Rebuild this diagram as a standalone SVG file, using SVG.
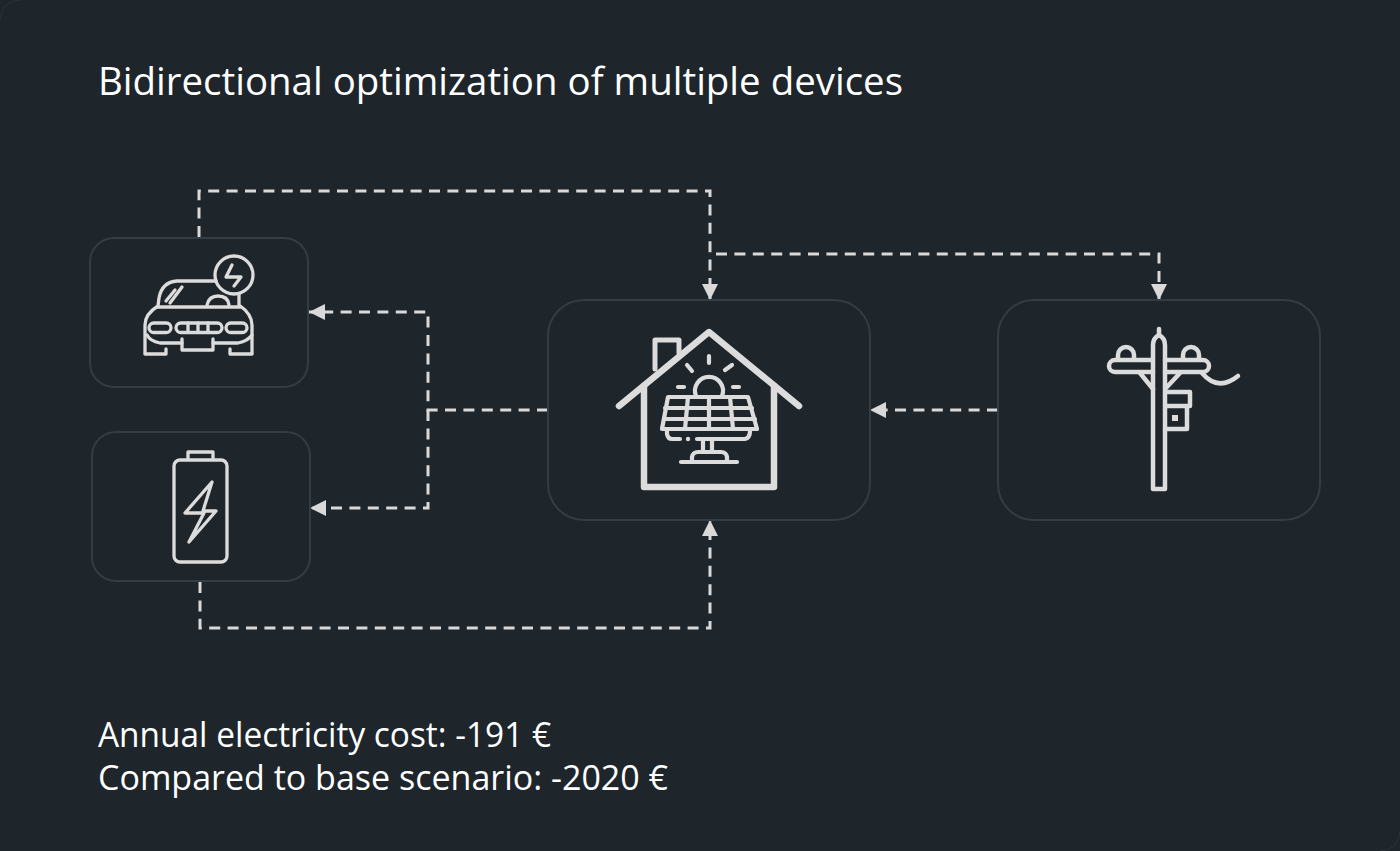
<svg xmlns="http://www.w3.org/2000/svg" width="1400" height="851" viewBox="0 0 1400 851">
<defs>
<marker id="arrow" markerUnits="userSpaceOnUse" markerWidth="16" markerHeight="16" refX="16" refY="8" orient="auto"><path d="M0 0L16 8L0 16Z" fill="#d9d9d9"/></marker>
</defs>
<style>
.t{font-family:"Open Sans","Noto Sans","Liberation Sans",sans-serif;fill:#fff}
.box{fill:none;stroke:#343c44;stroke-width:2}
.c{fill:none;stroke:#d9d9d9;stroke-width:3;stroke-dasharray:11 7.4}
.i{fill:none;stroke:#dcdcdc;stroke-linecap:round;stroke-linejoin:round}
.edge{fill:none;stroke:#2c333a}
</style>
<rect width="1400" height="851" fill="#1e252b"/>
<path class="edge" d="M0 20Q1 1 20 0M1380 851Q1399 850 1400 831"/>
<text class="t" x="98" y="95" font-size="39" textLength="805" lengthAdjust="spacingAndGlyphs">Bidirectional optimization of multiple devices</text>
<g id="connectors">
<path class="c" d="M199 237V191H710V300" marker-end="url(#arrow)"/>
<path class="c" d="M716 254H1159V300" marker-end="url(#arrow)"/>
<path class="c" d="M548 410H428V312H309" marker-end="url(#arrow)"/>
<path class="c" d="M428 410V508H310" marker-end="url(#arrow)"/>
<path class="c" d="M998 410H870" marker-end="url(#arrow)"/>
<path class="c" d="M200 582V628H710V520" marker-end="url(#arrow)"/>
</g>
<g id="car">
<rect class="box" x="90" y="238" width="218" height="149" rx="24"/>
<g class="i" stroke-width="3.300">
<path d="M145 353V325Q145 314 158 306L159 298Q162 282 177 281H216"/>
<path d="M239 294L239 305Q252 314 252 325V353"/>
<path d="M157 307H240"/>
<path d="M207 305Q209 296 218 296Q228 296 229 305"/>
<path d="M166 301L175 290M170 303L182 287"/>
<rect x="149" y="323" width="22" height="9.500" rx="4.750"/><rect x="226" y="323" width="21" height="9.500" rx="4.750"/>
<rect x="176" y="323" width="46" height="9.500" rx="4.750"/><path d="M188 323V332M198 323V332M208 323V332"/>
<path d="M147 335Q150 341 160 343H182M213 343H238Q248 341 252 335"/>
<path d="M182 339V350H213V339"/>
<path d="M145 354H166V349M252 354H230V349"/>
<circle cx="234" cy="275" r="19"/>
<path d="M232 265L226 277H241L234 286"/>
</g>
</g>
<g id="battery">
<rect class="box" x="92" y="432" width="218" height="149" rx="24"/>
<g class="i" stroke-width="3.300">
<rect x="174" y="460" width="53" height="102" rx="6"/>
<path d="M188 459V452H213V459"/>
<path d="M212 482L185 513H204L189 542L216 511H203Z"/>
</g>
</g>
<g id="house">
<rect class="box" x="548" y="300" width="322" height="220" rx="36"/>
<g class="i" stroke-width="6.500">
<path d="M619 406L709 332L799 406"/>
<path d="M644 386V487H774V386"/>
</g>
<g class="i" stroke-width="5">
<path d="M655 369V340H679V353"/>
</g>
<g class="i" stroke-width="4.200">
<path d="M696 396A14 14 0 1 1 722 396"/>
<path d="M709 356V363M687 365L692 371M732 365L725 370M678 387H684M733 387H739"/>
<path d="M668 397H748L757 429H662Z"/>
<path d="M665 408H752M664 419H755M688 397L685 429M709 397V429M730 397L733 429"/>
<path d="M667 430V434Q668 439 672 439H680M697 439H745Q750 438 750 431"/>
<path d="M703 440V452M712 440V452"/>
<path d="M692 461V457Q693 452 698 452H721Q726 452 727 457V461"/>
<path d="M681 462H737"/>
</g>
<circle cx="688" cy="439" r="2.200" fill="#dcdcdc"/>
</g>
<g id="pole">
<rect class="box" x="998" y="300" width="322" height="220" rx="36"/>
<g class="i" stroke-width="4.500">
<path d="M1153 489V345Q1153 338 1159 335Q1165 338 1165 345V489Z"/>
<path d="M1159 335V329"/>
<path d="M1153 360H1115A6 6 0 0 0 1115 372H1153M1165 360H1203A6 6 0 0 1 1203 372H1165"/>
<path d="M1118 358V355A8 8 0 0 1 1134 355V358M1183 358V355A8 8 0 0 1 1199 355V358"/>
<path d="M1140 373L1153 389M1180 373L1166 388"/>
<path d="M1202 373Q1218 392 1238 376"/>
<path d="M1167 392H1190V406H1167M1187 407V429H1167"/>
</g>
<rect x="1172" y="415" width="6" height="6" fill="#dcdcdc"/>
</g>
<text class="t" x="98" y="747" font-size="35" textLength="453" lengthAdjust="spacingAndGlyphs">Annual electricity cost: -191 €</text>
<text class="t" x="98" y="790" font-size="35" textLength="570" lengthAdjust="spacingAndGlyphs">Compared to base scenario: -2020 €</text>
</svg>
